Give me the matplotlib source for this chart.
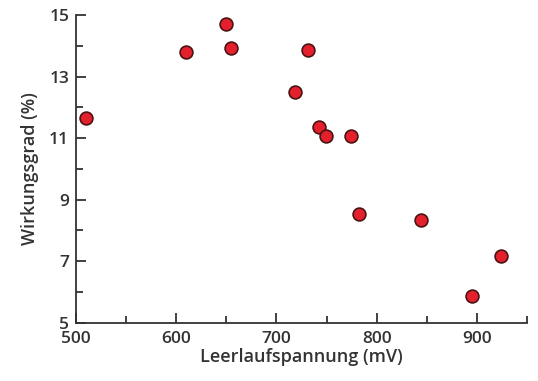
import matplotlib
matplotlib.use("Agg")
import matplotlib.pyplot as plt
from matplotlib.ticker import MultipleLocator

# Leerlaufspannung (mV) vs. Wirkungsgrad (%)
spannung = [510, 610, 650, 655, 731, 718, 742, 749, 774, 782, 844, 895, 924]
wirkungsgrad = [11.65, 13.80, 14.71, 13.93, 13.86, 12.50, 11.36, 11.07, 11.07,
                8.53, 8.34, 5.87, 7.17]

x_ticks = [500, 600, 700, 800, 900]
y_ticks = [5, 7, 9, 11, 13, 15]

grau = '#333333'
plt.rcParams['font.family'] = ['Open Sans', 'DejaVu Sans']
plt.rcParams['font.weight'] = 600

fig = plt.figure(figsize=(5.38, 3.81), dpi=100)
ax = fig.add_axes([0.1413, 0.153, 0.8383, 0.8076])

ax.scatter(spannung, wirkungsgrad, s=85, color='#e3202b', edgecolors='#4a1414',
           linewidths=1.2, zorder=3, clip_on=False)

ax.set_xlim(500, 950)
ax.set_ylim(5, 15)
ax.set_xticks(x_ticks)
ax.set_yticks(y_ticks)
ax.xaxis.set_minor_locator(MultipleLocator(50))
ax.yaxis.set_minor_locator(MultipleLocator(1))

for s in ['top', 'right']:
    ax.spines[s].set_visible(False)
for s in ['left', 'bottom']:
    ax.spines[s].set_color(grau)
    ax.spines[s].set_linewidth(1.3)

ax.tick_params(which='both', direction='in', color=grau, width=1.3,
               labelsize=12.5, labelcolor=grau)
ax.tick_params(which='major', length=7.5)
ax.tick_params(which='minor', length=5)
ax.tick_params(axis='x', which='major', pad=6)
ax.tick_params(axis='y', which='major', pad=5)

ax.set_xlabel('Leerlaufspannung (mV)', fontsize=13, color=grau, labelpad=1,
              fontweight=600)
ax.set_ylabel('Wirkungsgrad (%)', fontsize=13, color=grau, labelpad=7,
              fontweight=600)

fig.savefig('out.png', dpi=100)
